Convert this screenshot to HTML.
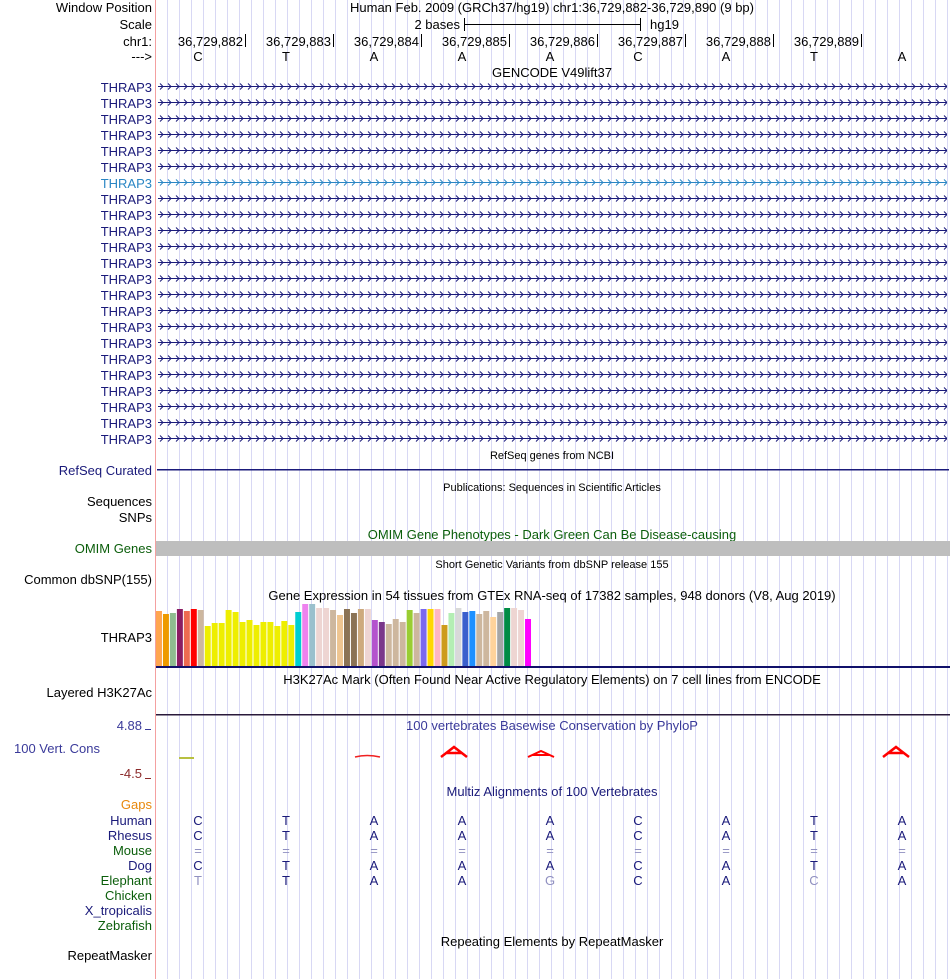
<!DOCTYPE html>
<html><head><meta charset="utf-8"><style>
html,body{margin:0;padding:0;background:#fff;}
svg{display:block;font-family:"Liberation Sans",sans-serif;}
</style></head><body>
<svg width="950" height="979" viewBox="0 0 950 979" xmlns="http://www.w3.org/2000/svg">
<defs>
<pattern id="grid" x="155" y="0" width="12" height="10" patternUnits="userSpaceOnUse">
<rect x="0" y="0" width="1" height="10" fill="#d8d8f4"/>
</pattern>
<pattern id="ch2" x="158" y="0" width="8" height="7" patternUnits="userSpaceOnUse">
<path d="M2,0.5 L5,3.5 L2,6.5" fill="none" stroke="#1a1a7a" stroke-width="1"/>
</pattern>
<pattern id="ch3" x="158" y="0" width="8" height="7" patternUnits="userSpaceOnUse">
<path d="M2,0.5 L5,3.5 L2,6.5" fill="none" stroke="#2a86c4" stroke-width="1"/>
</pattern>
</defs>
<rect x="156" y="0" width="794" height="979" fill="url(#grid)"/>
<rect x="155" y="0" width="1" height="979" fill="#f4a0a0"/>

<g font-size="13" fill="#000">
<text x="152" y="12" text-anchor="end">Window Position</text>
<text x="152" y="29" text-anchor="end">Scale</text>
<text x="152" y="46" text-anchor="end">chr1:</text>
<text x="152" y="61" text-anchor="end">---&gt;</text>
<text x="552" y="12" text-anchor="middle">Human Feb. 2009 (GRCh37/hg19)   chr1:36,729,882-36,729,890 (9 bp)</text>
<text x="460" y="29" text-anchor="end">2 bases</text>
<text x="650" y="29">hg19</text>
<text x="552" y="77" text-anchor="middle">GENCODE V49lift37</text>
</g>
<g stroke="#000" stroke-width="1">
<line x1="464" y1="24.5" x2="640" y2="24.5"/><line x1="464.5" y1="18" x2="464.5" y2="31"/><line x1="640.5" y1="18" x2="640.5" y2="31"/>
<line x1="245.5" y1="34" x2="245.5" y2="47"/><line x1="333.5" y1="34" x2="333.5" y2="47"/><line x1="421.5" y1="34" x2="421.5" y2="47"/><line x1="509.5" y1="34" x2="509.5" y2="47"/><line x1="597.5" y1="34" x2="597.5" y2="47"/><line x1="685.5" y1="34" x2="685.5" y2="47"/><line x1="773.5" y1="34" x2="773.5" y2="47"/><line x1="861.5" y1="34" x2="861.5" y2="47"/>
</g>
<g font-size="13" text-anchor="end">
<text x="243" y="46">36,729,882</text><text x="331" y="46">36,729,883</text><text x="419" y="46">36,729,884</text><text x="507" y="46">36,729,885</text><text x="595" y="46">36,729,886</text><text x="683" y="46">36,729,887</text><text x="771" y="46">36,729,888</text><text x="859" y="46">36,729,889</text>
</g>
<g font-size="13" text-anchor="middle">
<text x="198" y="61">C</text><text x="286" y="61">T</text><text x="374" y="61">A</text><text x="462" y="61">A</text><text x="550" y="61">A</text><text x="638" y="61">C</text><text x="726" y="61">A</text><text x="814" y="61">T</text><text x="902" y="61">A</text>
</g>

<g font-size="13" fill="#1a1a7a" text-anchor="end">
<text x="152" y="92">THRAP3</text><text x="152" y="108">THRAP3</text><text x="152" y="124">THRAP3</text><text x="152" y="140">THRAP3</text><text x="152" y="156">THRAP3</text><text x="152" y="172">THRAP3</text><text x="152" y="188" fill="#2a86c4">THRAP3</text><text x="152" y="204">THRAP3</text><text x="152" y="220">THRAP3</text><text x="152" y="236">THRAP3</text><text x="152" y="252">THRAP3</text><text x="152" y="268">THRAP3</text><text x="152" y="284">THRAP3</text><text x="152" y="300">THRAP3</text><text x="152" y="316">THRAP3</text><text x="152" y="332">THRAP3</text><text x="152" y="348">THRAP3</text><text x="152" y="364">THRAP3</text><text x="152" y="380">THRAP3</text><text x="152" y="396">THRAP3</text><text x="152" y="412">THRAP3</text><text x="152" y="428">THRAP3</text><text x="152" y="444">THRAP3</text>
</g>
<g fill="#1a1a7a">
<rect x="158" y="86" width="789" height="1"/><rect x="158" y="102" width="789" height="1"/><rect x="158" y="118" width="789" height="1"/><rect x="158" y="134" width="789" height="1"/><rect x="158" y="150" width="789" height="1"/><rect x="158" y="166" width="789" height="1"/><rect x="158" y="182" width="789" height="1" fill="#2a86c4"/><rect x="158" y="198" width="789" height="1"/><rect x="158" y="214" width="789" height="1"/><rect x="158" y="230" width="789" height="1"/><rect x="158" y="246" width="789" height="1"/><rect x="158" y="262" width="789" height="1"/><rect x="158" y="278" width="789" height="1"/><rect x="158" y="294" width="789" height="1"/><rect x="158" y="310" width="789" height="1"/><rect x="158" y="326" width="789" height="1"/><rect x="158" y="342" width="789" height="1"/><rect x="158" y="358" width="789" height="1"/><rect x="158" y="374" width="789" height="1"/><rect x="158" y="390" width="789" height="1"/><rect x="158" y="406" width="789" height="1"/><rect x="158" y="422" width="789" height="1"/><rect x="158" y="438" width="789" height="1"/>
</g>
<g>
<rect x="158" y="0" width="789" height="7" fill="url(#ch2)" transform="translate(0,83)"/>
<rect x="158" y="0" width="789" height="7" fill="url(#ch2)" transform="translate(0,99)"/>
<rect x="158" y="0" width="789" height="7" fill="url(#ch2)" transform="translate(0,115)"/>
<rect x="158" y="0" width="789" height="7" fill="url(#ch2)" transform="translate(0,131)"/>
<rect x="158" y="0" width="789" height="7" fill="url(#ch2)" transform="translate(0,147)"/>
<rect x="158" y="0" width="789" height="7" fill="url(#ch2)" transform="translate(0,163)"/>
<rect x="158" y="0" width="789" height="7" fill="url(#ch3)" transform="translate(0,179)"/>
<rect x="158" y="0" width="789" height="7" fill="url(#ch2)" transform="translate(0,195)"/>
<rect x="158" y="0" width="789" height="7" fill="url(#ch2)" transform="translate(0,211)"/>
<rect x="158" y="0" width="789" height="7" fill="url(#ch2)" transform="translate(0,227)"/>
<rect x="158" y="0" width="789" height="7" fill="url(#ch2)" transform="translate(0,243)"/>
<rect x="158" y="0" width="789" height="7" fill="url(#ch2)" transform="translate(0,259)"/>
<rect x="158" y="0" width="789" height="7" fill="url(#ch2)" transform="translate(0,275)"/>
<rect x="158" y="0" width="789" height="7" fill="url(#ch2)" transform="translate(0,291)"/>
<rect x="158" y="0" width="789" height="7" fill="url(#ch2)" transform="translate(0,307)"/>
<rect x="158" y="0" width="789" height="7" fill="url(#ch2)" transform="translate(0,323)"/>
<rect x="158" y="0" width="789" height="7" fill="url(#ch2)" transform="translate(0,339)"/>
<rect x="158" y="0" width="789" height="7" fill="url(#ch2)" transform="translate(0,355)"/>
<rect x="158" y="0" width="789" height="7" fill="url(#ch2)" transform="translate(0,371)"/>
<rect x="158" y="0" width="789" height="7" fill="url(#ch2)" transform="translate(0,387)"/>
<rect x="158" y="0" width="789" height="7" fill="url(#ch2)" transform="translate(0,403)"/>
<rect x="158" y="0" width="789" height="7" fill="url(#ch2)" transform="translate(0,419)"/>
<rect x="158" y="0" width="789" height="7" fill="url(#ch2)" transform="translate(0,435)"/>
</g>

<text x="552" y="459" font-size="11" text-anchor="middle">RefSeq genes from NCBI</text>
<text x="152" y="475" font-size="13" fill="#1a1a7a" text-anchor="end">RefSeq Curated</text>
<rect x="157" y="469" width="792" height="1.5" fill="#1a1a7a"/>
<text x="552" y="491" font-size="11" text-anchor="middle">Publications: Sequences in Scientific Articles</text>
<text x="152" y="506" font-size="13" text-anchor="end">Sequences</text>
<text x="152" y="522" font-size="13" text-anchor="end">SNPs</text>
<text x="552" y="539" font-size="13" fill="#0b5e0b" text-anchor="middle">OMIM Gene Phenotypes - Dark Green Can Be Disease-causing</text>
<text x="152" y="553" font-size="13" fill="#0b5e0b" text-anchor="end">OMIM Genes</text>
<rect x="156" y="541" width="794" height="15" fill="#bebebe"/>
<text x="552" y="568" font-size="11" text-anchor="middle">Short Genetic Variants from dbSNP release 155</text>
<text x="152" y="584" font-size="13" text-anchor="end">Common dbSNP(155)</text>
<text x="552" y="600" font-size="13" text-anchor="middle">Gene Expression in 54 tissues from GTEx RNA-seq of 17382 samples, 948 donors (V8, Aug 2019)</text>
<text x="152" y="642" font-size="13" fill="#000" text-anchor="end">THRAP3</text>
<svg x="156" y="604" width="376" height="62" viewBox="0 0 378 62" preserveAspectRatio="none">
<rect x="0" y="7" width="6" height="55" fill="#FFA54F"/>
<rect x="7" y="10" width="6" height="52" fill="#EE9A00"/>
<rect x="14" y="9" width="6" height="53" fill="#8FBC8F"/>
<rect x="21" y="5" width="6" height="57" fill="#8B1C62"/>
<rect x="28" y="7" width="6" height="55" fill="#EE6A50"/>
<rect x="35" y="5" width="6" height="57" fill="#FF0000"/>
<rect x="42" y="6" width="6" height="56" fill="#CDB79E"/>
<rect x="49" y="22" width="6" height="40" fill="#EEEE00"/>
<rect x="56" y="19" width="6" height="43" fill="#EEEE00"/>
<rect x="63" y="19" width="6" height="43" fill="#EEEE00"/>
<rect x="70" y="6" width="6" height="56" fill="#EEEE00"/>
<rect x="77" y="8" width="6" height="54" fill="#EEEE00"/>
<rect x="84" y="18" width="6" height="44" fill="#EEEE00"/>
<rect x="91" y="16" width="6" height="46" fill="#EEEE00"/>
<rect x="98" y="21" width="6" height="41" fill="#EEEE00"/>
<rect x="105" y="18" width="6" height="44" fill="#EEEE00"/>
<rect x="112" y="18" width="6" height="44" fill="#EEEE00"/>
<rect x="119" y="22" width="6" height="40" fill="#EEEE00"/>
<rect x="126" y="17" width="6" height="45" fill="#EEEE00"/>
<rect x="133" y="21" width="6" height="41" fill="#EEEE00"/>
<rect x="140" y="8" width="6" height="54" fill="#00CED1"/>
<rect x="147" y="0" width="6" height="62" fill="#EE82EE"/>
<rect x="154" y="0" width="6" height="62" fill="#9AC0CD"/>
<rect x="161" y="4" width="6" height="58" fill="#EED5D2"/>
<rect x="168" y="4" width="6" height="58" fill="#EED5D2"/>
<rect x="175" y="6" width="6" height="56" fill="#CDB79E"/>
<rect x="182" y="11" width="6" height="51" fill="#EEC591"/>
<rect x="189" y="5" width="6" height="57" fill="#8B7355"/>
<rect x="196" y="9" width="6" height="53" fill="#8B7355"/>
<rect x="203" y="5" width="6" height="57" fill="#CDAA7D"/>
<rect x="210" y="5" width="6" height="57" fill="#EED5D2"/>
<rect x="217" y="16" width="6" height="46" fill="#B452CD"/>
<rect x="224" y="18" width="6" height="44" fill="#7A378B"/>
<rect x="231" y="20" width="6" height="42" fill="#CDB79E"/>
<rect x="238" y="15" width="6" height="47" fill="#CDB79E"/>
<rect x="245" y="18" width="6" height="44" fill="#CDB79E"/>
<rect x="252" y="6" width="6" height="56" fill="#9ACD32"/>
<rect x="259" y="9" width="6" height="53" fill="#CDB79E"/>
<rect x="266" y="5" width="6" height="57" fill="#7B68EE"/>
<rect x="273" y="5" width="6" height="57" fill="#FFD700"/>
<rect x="280" y="5" width="6" height="57" fill="#FFB6C1"/>
<rect x="287" y="21" width="6" height="41" fill="#CD9B1D"/>
<rect x="294" y="9" width="6" height="53" fill="#B4EEB4"/>
<rect x="301" y="4" width="6" height="58" fill="#D9D9D9"/>
<rect x="308" y="8" width="6" height="54" fill="#3A5FCD"/>
<rect x="315" y="7" width="6" height="55" fill="#1E90FF"/>
<rect x="322" y="10" width="6" height="52" fill="#CDB79E"/>
<rect x="329" y="7" width="6" height="55" fill="#CDB79E"/>
<rect x="336" y="13" width="6" height="49" fill="#FFD39B"/>
<rect x="343" y="8" width="6" height="54" fill="#A6A6A6"/>
<rect x="350" y="4" width="6" height="58" fill="#008B45"/>
<rect x="357" y="4" width="6" height="58" fill="#EED5D2"/>
<rect x="364" y="6" width="6" height="56" fill="#EED5D2"/>
<rect x="371" y="15" width="6" height="47" fill="#FF00FF"/>
</svg>
<rect x="156" y="666" width="794" height="2" fill="#10106a"/>
<text x="552" y="684" font-size="13" text-anchor="middle">H3K27Ac Mark (Often Found Near Active Regulatory Elements) on 7 cell lines from ENCODE</text>
<text x="152" y="697" font-size="13" text-anchor="end">Layered H3K27Ac</text>
<rect x="156" y="714" width="794" height="1.5" fill="#2a1a3a"/>

<text x="552" y="730" font-size="13" fill="#3a3a9a" text-anchor="middle">100 vertebrates Basewise Conservation by PhyloP</text>
<text x="142" y="730" font-size="13" fill="#3a3a9a" text-anchor="end">4.88</text>
<rect x="145" y="729" width="6" height="1" fill="#3a3a9a"/>
<text x="14" y="753" font-size="13" fill="#3a3a9a">100 Vert. Cons</text>
<text x="142" y="778" font-size="13" fill="#8b2a2a" text-anchor="end">-4.5</text>
<rect x="145" y="778" width="6" height="1" fill="#8b2a2a"/>
<rect x="179" y="757" width="15" height="2" fill="#b8c040"/>
<path d="M355,757 Q367,754 380,757" stroke="#f02020" stroke-width="1.5" fill="none"/>
<path d="M441,757 L454,747 L467,757 M446,753 L462,753" stroke="#ff0000" stroke-width="2.5" fill="none"/>
<path d="M528,757 L541,751 L554,757 M532,755 L550,755" stroke="#ff0000" stroke-width="2" fill="none"/>
<path d="M883,757 L896,747 L909,757 M888,753 L904,753" stroke="#ff0000" stroke-width="2.5" fill="none"/>

<text x="552" y="796" font-size="13" fill="#1a1a7a" text-anchor="middle">Multiz Alignments of 100 Vertebrates</text>
<g font-size="13" text-anchor="end">
<text x="152" y="809" fill="#e8880c">Gaps</text>
<text x="152" y="825" fill="#1a1a7a">Human</text>
<text x="152" y="840" fill="#1a1a7a">Rhesus</text>
<text x="152" y="855" fill="#0b5e0b">Mouse</text>
<text x="152" y="870" fill="#1a1a7a">Dog</text>
<text x="152" y="885" fill="#0b5e0b">Elephant</text>
<text x="152" y="900" fill="#0b5e0b">Chicken</text>
<text x="152" y="915" fill="#1a1a7a">X_tropicalis</text>
<text x="152" y="930" fill="#0b5e0b">Zebrafish</text>
<text x="152" y="960" fill="#000">RepeatMasker</text>
</g>
<g font-size="13" text-anchor="middle" fill="#1a1a7a">
<text x="198" y="825">C</text><text x="286" y="825">T</text><text x="374" y="825">A</text><text x="462" y="825">A</text><text x="550" y="825">A</text><text x="638" y="825">C</text><text x="726" y="825">A</text><text x="814" y="825">T</text><text x="902" y="825">A</text>
<text x="198" y="840">C</text><text x="286" y="840">T</text><text x="374" y="840">A</text><text x="462" y="840">A</text><text x="550" y="840">A</text><text x="638" y="840">C</text><text x="726" y="840">A</text><text x="814" y="840">T</text><text x="902" y="840">A</text>
<g fill="#9090c0"><text x="198" y="855">=</text><text x="286" y="855">=</text><text x="374" y="855">=</text><text x="462" y="855">=</text><text x="550" y="855">=</text><text x="638" y="855">=</text><text x="726" y="855">=</text><text x="814" y="855">=</text><text x="902" y="855">=</text></g>
<text x="198" y="870">C</text><text x="286" y="870">T</text><text x="374" y="870">A</text><text x="462" y="870">A</text><text x="550" y="870">A</text><text x="638" y="870">C</text><text x="726" y="870">A</text><text x="814" y="870">T</text><text x="902" y="870">A</text>
<text x="198" y="885" fill="#9090c0">T</text><text x="286" y="885">T</text><text x="374" y="885">A</text><text x="462" y="885">A</text><text x="550" y="885" fill="#9090c0">G</text><text x="638" y="885">C</text><text x="726" y="885">A</text><text x="814" y="885" fill="#9090c0">C</text><text x="902" y="885">A</text>
</g>
<text x="552" y="946" font-size="13" text-anchor="middle">Repeating Elements by RepeatMasker</text>
</svg>
</body></html>
